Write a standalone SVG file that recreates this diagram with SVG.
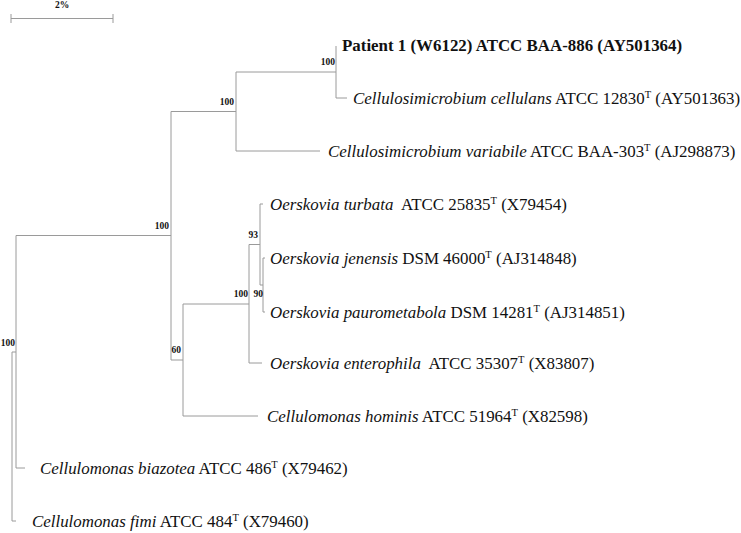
<svg xmlns="http://www.w3.org/2000/svg" width="741" height="533" viewBox="0 0 741 533">
<style>
.br{fill:none;stroke:#9a9a9a;stroke-width:1}
.lb{font-family:"Liberation Serif","Times New Roman",serif;font-size:16.9px;fill:#111}
.it{font-style:italic}
.bs{font-family:"Liberation Serif","Times New Roman",serif;font-size:9.5px;font-weight:bold;fill:#111;text-anchor:end}
.sup{font-size:10.5px}
</style>
<rect width="741" height="533" fill="#fff"/>
<g id="scale-bar">
<path class="br" d="M11,18.5H113M11,14V23M113,14V23"/>
<text x="62" y="8" class="bs" style="text-anchor:middle">2%</text>
</g>
<g id="connectors">
<path class="br" d="M12,352V521H16M12,352H16"/>
<path class="br" d="M16,235.5V468H25M16,235.5H171"/>
<path class="br" d="M171,111.5V360M171,111.5H236M171,360H183"/>
<path class="br" d="M236,72V151H320M236,72H336"/>
<path class="br" d="M336,46V98H347"/>
<path class="br" d="M183,304V416H258M183,304H249"/>
<path class="br" d="M249,244.5V363H262M249,244.5H260"/>
<path class="br" d="M260,204V285H263M260,204H263"/>
<path class="br" d="M263,258V312M263,258H265M263,312H265"/>
</g>
<g id="bootstrap">
<text x="335" y="65" class="bs">100</text>
<text x="234" y="105" class="bs">100</text>
<text x="169" y="229" class="bs">100</text>
<text x="258" y="238" class="bs">93</text>
<text x="15" y="346" class="bs">100</text>
<text x="181" y="353" class="bs">60</text>
<text x="248" y="297" class="bs">100</text>
<text x="263" y="297" class="bs">90</text>
</g>
<g id="patient1"><text x="342" y="51" class="lb" font-weight="bold">Patient 1 (W6122) ATCC BAA-886 (AY501364)</text></g>
<g id="cellulans"><text x="353" y="104" class="lb"><tspan class="it">Cellulosimicrobium cellulans</tspan> ATCC 12830<tspan class="sup" dy="-6">T</tspan><tspan dy="6"> (AY501363)</tspan></text></g>
<g id="variabile"><text x="328" y="157" class="lb"><tspan class="it">Cellulosimicrobium variabile</tspan> ATCC BAA-303<tspan class="sup" dy="-6">T</tspan><tspan dy="6"> (AJ298873)</tspan></text></g>
<g id="turbata"><text x="270" y="210" class="lb" xml:space="preserve"><tspan class="it">Oerskovia turbata</tspan>  ATCC 25835<tspan class="sup" dy="-6">T</tspan><tspan dy="6"> (X79454)</tspan></text></g>
<g id="jenensis"><text x="270" y="264" class="lb"><tspan class="it">Oerskovia jenensis</tspan> DSM 46000<tspan class="sup" dy="-6">T</tspan><tspan dy="6"> (AJ314848)</tspan></text></g>
<g id="paurometabola"><text x="270" y="318" class="lb"><tspan class="it">Oerskovia paurometabola</tspan> DSM 14281<tspan class="sup" dy="-6">T</tspan><tspan dy="6"> (AJ314851)</tspan></text></g>
<g id="enterophila"><text x="270" y="369" class="lb" xml:space="preserve"><tspan class="it">Oerskovia enterophila</tspan>  ATCC 35307<tspan class="sup" dy="-6">T</tspan><tspan dy="6"> (X83807)</tspan></text></g>
<g id="hominis"><text x="267" y="422" class="lb"><tspan class="it">Cellulomonas hominis</tspan> ATCC 51964<tspan class="sup" dy="-6">T</tspan><tspan dy="6"> (X82598)</tspan></text></g>
<g id="biazotea"><text x="40" y="474" class="lb"><tspan class="it">Cellulomonas biazotea</tspan> ATCC 486<tspan class="sup" dy="-6">T</tspan><tspan dy="6"> (X79462)</tspan></text></g>
<g id="fimi"><text x="32" y="527" class="lb"><tspan class="it">Cellulomonas fimi</tspan> ATCC 484<tspan class="sup" dy="-6">T</tspan><tspan dy="6"> (X79460)</tspan></text></g>
</svg>
